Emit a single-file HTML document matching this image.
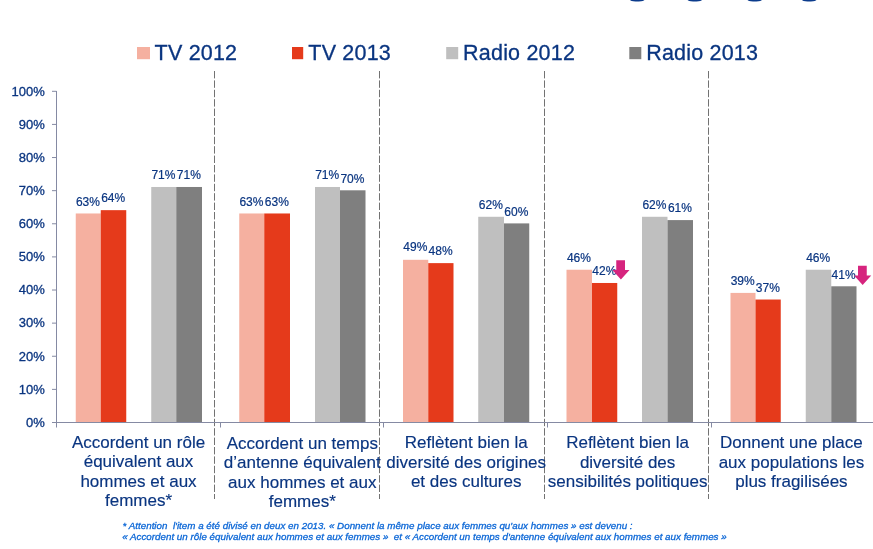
<!DOCTYPE html>
<html lang="fr"><head><meta charset="utf-8"><title>Graphique TV / Radio 2012-2013</title>
<style>
html,body{margin:0;padding:0;background:#fff;}
body{width:873px;height:549px;overflow:hidden;position:relative;font-family:"Liberation Sans",Arial,sans-serif;}
svg{position:absolute;left:0;top:0;display:block;}
svg text{font-family:"Liberation Sans",Arial,sans-serif;fill:#0a3580;stroke:#0a3580;stroke-width:0.3px;}
.leg{font-size:21.5px;letter-spacing:0.2px;stroke-width:0.3px;}
.yl{font-size:13px;text-anchor:end;}
.dl{font-size:12px;text-anchor:middle;stroke-width:0.2px;}
.cat{font-size:17px;text-anchor:middle;stroke-width:0.15px;}
.fn{font-size:9.8px;font-style:italic;fill:#0a66d6;stroke:#0a66d6;stroke-width:0.3px;}
</style></head><body>
<svg width="873" height="549" viewBox="0 0 873 549">

<rect x="630.0" y="-4" width="14.4" height="5.4" rx="5.5" ry="1.7" fill="#0b3b8c"/>
<rect x="687.6" y="-4" width="14.4" height="5.4" rx="5.5" ry="1.7" fill="#0b3b8c"/>
<rect x="747.5" y="-4" width="14.4" height="5.4" rx="5.5" ry="1.7" fill="#0b3b8c"/>
<rect x="802.0" y="-4" width="14.4" height="5.4" rx="5.5" ry="1.7" fill="#0b3b8c"/>
<line x1="214.5" y1="71" x2="214.5" y2="499" stroke="#727272" stroke-width="1" stroke-dasharray="7.4 2"/>
<line x1="379.5" y1="71" x2="379.5" y2="499" stroke="#727272" stroke-width="1" stroke-dasharray="7.4 2"/>
<line x1="544.5" y1="71" x2="544.5" y2="499" stroke="#727272" stroke-width="1" stroke-dasharray="7.4 2"/>
<line x1="708.5" y1="71" x2="708.5" y2="499" stroke="#727272" stroke-width="1" stroke-dasharray="7.4 2"/>
<rect x="75.75" y="213.47" width="25.00" height="208.53" fill="#f5b0a0"/>
<rect x="100.75" y="210.16" width="25.50" height="211.84" fill="#e53a1b"/>
<rect x="151.25" y="186.99" width="25.00" height="235.01" fill="#bfbfbf"/>
<rect x="176.25" y="186.99" width="25.75" height="235.01" fill="#7f7f7f"/>
<rect x="239.25" y="213.47" width="25.00" height="208.53" fill="#f5b0a0"/>
<rect x="264.25" y="213.47" width="25.75" height="208.53" fill="#e53a1b"/>
<rect x="315.00" y="186.99" width="25.00" height="235.01" fill="#bfbfbf"/>
<rect x="340.00" y="190.30" width="25.50" height="231.70" fill="#7f7f7f"/>
<rect x="403.00" y="259.81" width="25.25" height="162.19" fill="#f5b0a0"/>
<rect x="428.25" y="263.12" width="25.25" height="158.88" fill="#e53a1b"/>
<rect x="478.25" y="216.78" width="25.75" height="205.22" fill="#bfbfbf"/>
<rect x="504.00" y="223.40" width="25.25" height="198.60" fill="#7f7f7f"/>
<rect x="566.50" y="269.74" width="25.50" height="152.26" fill="#f5b0a0"/>
<rect x="592.00" y="282.98" width="25.25" height="139.02" fill="#e53a1b"/>
<rect x="642.00" y="216.78" width="25.50" height="205.22" fill="#bfbfbf"/>
<rect x="667.50" y="220.09" width="25.50" height="201.91" fill="#7f7f7f"/>
<rect x="730.50" y="292.91" width="25.00" height="129.09" fill="#f5b0a0"/>
<rect x="755.50" y="299.53" width="25.25" height="122.47" fill="#e53a1b"/>
<rect x="805.75" y="269.74" width="25.50" height="152.26" fill="#bfbfbf"/>
<rect x="831.25" y="286.29" width="25.25" height="135.71" fill="#7f7f7f"/>
<line x1="56.5" y1="91" x2="56.5" y2="427.5" stroke="#858aa3" stroke-width="1"/>
<line x1="56" y1="422.5" x2="873" y2="422.5" stroke="#858aa3" stroke-width="1"/>
<line x1="52" y1="422.50" x2="56.5" y2="422.50" stroke="#858aa3" stroke-width="1"/>
<text class="yl" x="44.8" y="426.80">0%</text>
<line x1="52" y1="389.38" x2="56.5" y2="389.38" stroke="#858aa3" stroke-width="1"/>
<text class="yl" x="44.8" y="393.68">10%</text>
<line x1="52" y1="356.26" x2="56.5" y2="356.26" stroke="#858aa3" stroke-width="1"/>
<text class="yl" x="44.8" y="360.56">20%</text>
<line x1="52" y1="323.14" x2="56.5" y2="323.14" stroke="#858aa3" stroke-width="1"/>
<text class="yl" x="44.8" y="327.44">30%</text>
<line x1="52" y1="290.02" x2="56.5" y2="290.02" stroke="#858aa3" stroke-width="1"/>
<text class="yl" x="44.8" y="294.32">40%</text>
<line x1="52" y1="256.90" x2="56.5" y2="256.90" stroke="#858aa3" stroke-width="1"/>
<text class="yl" x="44.8" y="261.20">50%</text>
<line x1="52" y1="223.78" x2="56.5" y2="223.78" stroke="#858aa3" stroke-width="1"/>
<text class="yl" x="44.8" y="228.08">60%</text>
<line x1="52" y1="190.66" x2="56.5" y2="190.66" stroke="#858aa3" stroke-width="1"/>
<text class="yl" x="44.8" y="194.96">70%</text>
<line x1="52" y1="157.54" x2="56.5" y2="157.54" stroke="#858aa3" stroke-width="1"/>
<text class="yl" x="44.8" y="161.84">80%</text>
<line x1="52" y1="124.42" x2="56.5" y2="124.42" stroke="#858aa3" stroke-width="1"/>
<text class="yl" x="44.8" y="128.72">90%</text>
<line x1="52" y1="91.30" x2="56.5" y2="91.30" stroke="#858aa3" stroke-width="1"/>
<text class="yl" x="44.8" y="95.60">100%</text>
<line x1="220.5" y1="422" x2="220.5" y2="427.5" stroke="#858aa3" stroke-width="1"/>
<line x1="383.5" y1="422" x2="383.5" y2="427.5" stroke="#858aa3" stroke-width="1"/>
<line x1="547.5" y1="422" x2="547.5" y2="427.5" stroke="#858aa3" stroke-width="1"/>
<line x1="711.5" y1="422" x2="711.5" y2="427.5" stroke="#858aa3" stroke-width="1"/>
<text class="dl" x="87.95" y="206.00">63%</text>
<text class="dl" x="113.20" y="201.70">64%</text>
<text class="dl" x="163.45" y="179.00">71%</text>
<text class="dl" x="188.82" y="179.00">71%</text>
<text class="dl" x="251.45" y="206.00">63%</text>
<text class="dl" x="276.82" y="206.00">63%</text>
<text class="dl" x="327.20" y="178.75">71%</text>
<text class="dl" x="352.45" y="183.25">70%</text>
<text class="dl" x="415.32" y="251.30">49%</text>
<text class="dl" x="440.57" y="254.60">48%</text>
<text class="dl" x="490.82" y="208.60">62%</text>
<text class="dl" x="516.33" y="216.00">60%</text>
<text class="dl" x="578.95" y="261.50">46%</text>
<text class="dl" x="604.33" y="274.90">42%</text>
<text class="dl" x="654.45" y="208.60">62%</text>
<text class="dl" x="679.95" y="211.60">61%</text>
<text class="dl" x="742.70" y="284.70">39%</text>
<text class="dl" x="767.83" y="291.70">37%</text>
<text class="dl" x="818.20" y="261.70">46%</text>
<text class="dl" x="843.58" y="278.95">41%</text>
<polygon fill="#d6247e" points="616.25,260.25 625.00,260.25 625.00,270.00 629.50,270.00 620.90,279.40 612.40,270.00 616.25,270.00"/>
<polygon fill="#d6247e" points="858.00,265.75 866.75,265.75 866.75,275.50 871.25,275.50 862.65,284.90 854.15,275.50 858.00,275.50"/>
<rect x="137.0" y="47" width="13.0" height="12.2" fill="#f5b0a0"/>
<text class="leg" x="154.6" y="60.0">TV 2012</text>
<rect x="292.0" y="47" width="11.2" height="12.2" fill="#e53a1b"/>
<text class="leg" x="308.3" y="60.0">TV 2013</text>
<rect x="446.2" y="47" width="12.0" height="12.2" fill="#bfbfbf"/>
<text class="leg" x="463.1" y="60.0">Radio 2012</text>
<rect x="629.3" y="47" width="12.0" height="12.2" fill="#7f7f7f"/>
<text class="leg" x="646.2" y="60.0">Radio 2013</text>
<text class="cat" x="138.5" y="447.50">Accordent un rôle</text>
<text class="cat" x="138.5" y="467.10">équivalent aux</text>
<text class="cat" x="138.5" y="486.70">hommes et aux</text>
<text class="cat" x="138.5" y="505.90">femmes*</text>
<text class="cat" x="302.3" y="449.00">Accordent un temps</text>
<text class="cat" x="302.3" y="468.30">d’antenne équivalent</text>
<text class="cat" x="302.3" y="487.70">aux hommes et aux</text>
<text class="cat" x="302.3" y="507.00">femmes*</text>
<text class="cat" x="466.2" y="447.75">Reflètent bien la</text>
<text class="cat" x="466.2" y="467.50">diversité des origines</text>
<text class="cat" x="466.2" y="486.75">et des cultures</text>
<text class="cat" x="627.6" y="447.75">Reflètent bien la</text>
<text class="cat" x="627.6" y="467.50">diversité des</text>
<text class="cat" x="627.6" y="486.75">sensibilités politiques</text>
<text class="cat" x="791.4" y="447.75">Donnent une place</text>
<text class="cat" x="791.4" y="467.50">aux populations les</text>
<text class="cat" x="791.4" y="486.75">plus fragilisées</text>
<text class="fn" x="122.6" y="528.5" textLength="510" lengthAdjust="spacingAndGlyphs" xml:space="preserve">* Attention  l'item a été divisé en deux en 2013. « Donnent la même place aux femmes qu'aux hommes » est devenu :</text>
<text class="fn" x="122.2" y="539.8" textLength="604.5" lengthAdjust="spacingAndGlyphs" xml:space="preserve">« Accordent un rôle équivalent aux hommes et aux femmes »  et « Accordent un temps d'antenne équivalent aux hommes et aux femmes »</text>
</svg></body></html>
